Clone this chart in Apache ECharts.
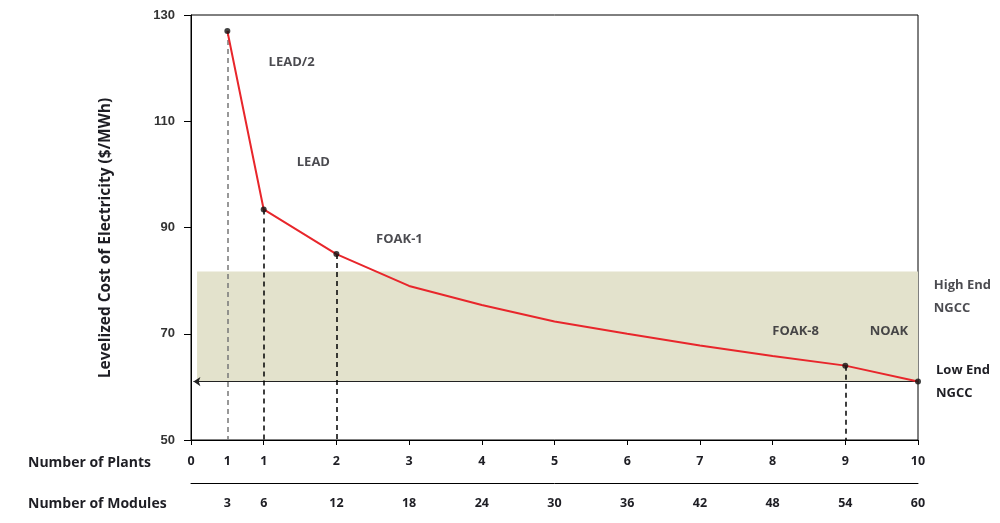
<!DOCTYPE html>
<html>
<head>
<meta charset="utf-8">
<script src="https://cdn.jsdelivr.net/npm/echarts@6/dist/echarts.min.js"></script>
<style>html,body{margin:0;padding:0;background:#fff}#c{width:1000px;height:523px}</style>
</head>
<body>
<div id="c"></div>
<script>
// ---- data ----
var modules = [3, 6, 12, 18, 24, 30, 36, 42, 48, 54, 60];
var cost = [127.0, 93.4, 85.0, 79.0, 75.4, 72.3, 70.0, 67.8, 65.8, 64.0, 61.0];
var plantTickModules = [0, 3, 6, 12, 18, 24, 30, 36, 42, 48, 54, 60];
var plantTickLabels = ['0', '1', '1', '2', '3', '4', '5', '6', '7', '8', '9', '10'];
var moduleTickLabels = ['3', '6', '12', '18', '24', '30', '36', '42', '48', '54', '60'];
var markedModules = [3, 6, 12, 54, 60];
var droplineModules = [3, 6, 12, 54];
var ngccLow = 61;
var ngccHigh = 81.7;
var yTicks = [50, 70, 90, 110, 130];
var annotations = [
  {name: 'LEAD/2', value: [8.3, 121.1]},
  {name: 'LEAD', value: [10.1, 102.2]},
  {name: 'FOAK-1', value: [17.2, 87.8]},
  {name: 'FOAK-8', value: [49.9, 70.5]},
  {name: 'NOAK', value: [57.6, 70.5]}
];
var sideLabels = [
  {name: 'High End\nNGCC', value: [61.3, 76.9]}
];

function costAt(m) { return cost[modules.indexOf(m)]; }

var chart = echarts.init(document.getElementById('c'), null, {renderer: 'canvas'});
var FONT = 'Open Sans';
var txt = '#1e1e24';

var dropLines = droplineModules.map(function (m, i) {
  return [
    {coord: [m, costAt(m)], lineStyle: {color: i === 0 ? '#777' : '#000'}},
    {coord: [m, yTicks[0]]}
  ];
});

var option = {
  animation: false,
  grid: {left: 191, right: 82, top: 15, bottom: 83, show: true, borderColor: '#000', borderWidth: 1, backgroundColor: 'transparent'},
  xAxis: [{
    type: 'value', min: 0, max: 60, interval: 6,
    axisLine: {show: true, onZero: false, lineStyle: {color: '#000', width: 1}},
    axisTick: {show: true, inside: false, length: 5, lineStyle: {color: '#000'}},
    splitLine: {show: false},
    axisLabel: {
      customValues: plantTickModules,
      formatter: function (v) { var i = plantTickModules.indexOf(v); return i >= 0 ? plantTickLabels[i] : ''; },
      margin: 15, color: txt, fontFamily: FONT, fontWeight: 'bold', fontSize: 12.5
    }
  }, {
    type: 'value', min: 0, max: 60, position: 'bottom', offset: 43,
    axisLine: {show: true, onZero: false, lineStyle: {color: '#000', width: 1}},
    axisTick: {show: false},
    splitLine: {show: false},
    axisLabel: {
      customValues: modules,
      formatter: function (v) { var i = modules.indexOf(v); return i >= 0 ? moduleTickLabels[i] : ''; },
      margin: 14, color: txt, fontFamily: FONT, fontWeight: 'bold', fontSize: 12.5
    }
  }],
  yAxis: {
    type: 'value', min: 50, max: 130, interval: 20,
    axisLine: {show: true, onZero: false, lineStyle: {color: '#000', width: 1}},
    axisTick: {show: true, inside: false, length: 7, lineStyle: {color: '#000'}},
    splitLine: {show: false},
    axisLabel: {margin: 16, color: '#333', fontFamily: 'Liberation Sans', fontWeight: 'bold', fontSize: 13}
  },
  graphic: [
    {type: 'text', x: 106, y: 238, rotation: Math.PI / 2,
      style: {text: 'Levelized Cost of Electricity ($/MWh)', fill: txt, font: 'bold 15.5px "Open Sans"', align: 'center', verticalAlign: 'middle'}},
    {type: 'text', x: 28, y: 463,
      style: {text: 'Number of Plants', fill: txt, font: 'bold 14px "Open Sans"', align: 'left', verticalAlign: 'middle'}},
    {type: 'text', x: 28, y: 504,
      style: {text: 'Number of Modules', fill: txt, font: 'bold 14px "Open Sans"', align: 'left', verticalAlign: 'middle'}}
  ],
  series: [
    {
      type: 'line', name: 'band', data: [], silent: true,
      markArea: {
        silent: true,
        itemStyle: {color: '#e3e2cc'},
        data: [[{coord: [0.5, ngccLow]}, {coord: [60, ngccHigh]}]]
      },
      markLine: {
        silent: true, symbol: ['arrow', 'none'], symbolSize: [7, 7],
        lineStyle: {color: '#222', width: 1.2, type: 'solid'},
        label: {show: true, position: 'end', distance: 18, formatter: 'Low End\nNGCC', color: txt, fontFamily: FONT, fontWeight: 'bold', fontSize: 13, lineHeight: 23, align: 'left'},
        data: [[{coord: [0.2, ngccLow]}, {coord: [60, ngccLow]}]]
      }
    },
    {
      type: 'line', name: 'drops', data: [], silent: true,
      markLine: {
        silent: true, symbol: ['none', 'none'],
        lineStyle: {color: '#000', width: 1.5, type: [5, 4]},
        label: {show: false},
        data: dropLines
      }
    },
    {
      type: 'line', name: 'LCOE',
      data: modules.map(function (m, i) { return [m, cost[i]]; }),
      showSymbol: false, symbol: 'none',
      lineStyle: {color: '#e8262b', width: 2},
      z: 5
    },
    {
      type: 'scatter', name: 'markers',
      data: markedModules.map(function (m) { return [m, costAt(m)]; }),
      symbol: 'circle', symbolSize: 6,
      itemStyle: {color: '#111'},
      z: 6
    },
    {
      type: 'scatter', name: 'annotations', data: annotations, symbolSize: 0, silent: true,
      label: {show: true, position: 'inside', formatter: '{b}', color: txt, fontFamily: FONT, fontWeight: 'bold', fontSize: 13}
    },
    {
      type: 'scatter', name: 'side', data: sideLabels, symbolSize: 0, silent: true, clip: false,
      label: {show: true, position: 'inside', align: 'left', formatter: '{b}', color: txt, fontFamily: FONT, fontWeight: 'bold', fontSize: 13, lineHeight: 23}
    }
  ]
};
chart.setOption(option);
</script>
</body>
</html>
